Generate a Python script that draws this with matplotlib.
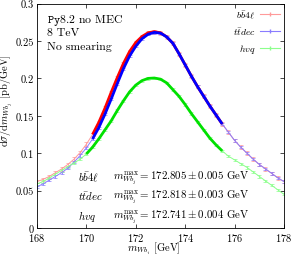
import numpy as np
import matplotlib.pyplot as plt
from matplotlib.lines import Line2D

plt.rcParams.update({
    "font.family": "cmr10",
    "mathtext.fontset": "cm",
    "axes.formatter.use_mathtext": True,
    "font.size": 7.5,
})

# bin centres [GeV]
mass = [168.0, 168.25, 168.5, 168.75, 169.0, 169.25, 169.5, 169.75,
        170.0, 170.25, 170.5, 170.75, 171.0, 171.25, 171.5, 171.75,
        172.0, 172.25, 172.5, 172.75, 173.0, 173.25, 173.5, 173.75,
        174.0, 174.25, 174.5, 174.75, 175.0, 175.25, 175.5, 175.75,
        176.0, 176.25, 176.5, 176.75, 177.0, 177.25, 177.5, 177.75, 178.0]

# dsigma/dm [pb/GeV]
bb4l = [0.062, 0.065, 0.069, 0.074, 0.079, 0.085, 0.092, 0.101,
        0.112, 0.125, 0.141, 0.160, 0.181, 0.201, 0.220, 0.236,
        0.248, 0.256, 0.261, 0.2625, 0.261, 0.2555, 0.247, 0.233,
        0.218, 0.203, 0.189, 0.176, 0.163, 0.151, 0.139, 0.128,
        0.117, 0.108, 0.100, 0.092, 0.085, 0.079, 0.073, 0.067, 0.062]
ttdec = [0.055, 0.059, 0.064, 0.069, 0.074, 0.080, 0.088, 0.097,
         0.107, 0.119, 0.134, 0.152, 0.172, 0.193, 0.213, 0.230,
         0.243, 0.253, 0.259, 0.2615, 0.2605, 0.2555, 0.247, 0.233,
         0.218, 0.203, 0.189, 0.176, 0.163, 0.151, 0.139, 0.128,
         0.117, 0.108, 0.100, 0.092, 0.085, 0.079, 0.073, 0.067, 0.062]
hvq = [0.059, 0.062, 0.067, 0.072, 0.077, 0.082, 0.087, 0.092,
       0.099, 0.108, 0.119, 0.131, 0.143, 0.157, 0.170, 0.182,
       0.191, 0.197, 0.200, 0.2005, 0.199, 0.194, 0.185, 0.176,
       0.165, 0.153, 0.142, 0.131, 0.120, 0.111, 0.103, 0.096,
       0.091, 0.086, 0.081, 0.075, 0.069, 0.063, 0.057, 0.051, 0.045]

err_bb4l = 0.0025
err_ttdec = 0.0015
err_hvq = 0.0015

# fit windows
fit_bb4l = (170.25, 175.5)
fit_ttdec = (170.25, 175.5)
fit_hvq = (170.0, 175.5)

labels = [r"$b\bar{b}4\ell$", r"$t\bar{t}dec$", r"$hvq$"]
results = ["172.805 \\pm 0.005", "172.818 \\pm 0.003", "172.741 \\pm 0.004"]

thin_colors = ["#ff9a9a", "#8a7cff", "#8cff8c"]
thick_colors = ["#ff0000", "#0000ff", "#00e000"]

fig = plt.figure(figsize=(2.91, 2.55), dpi=100)
ax = fig.add_axes([0.127, 0.102, 0.849, 0.880])

series = [(bb4l, err_bb4l, fit_bb4l), (ttdec, err_ttdec, fit_ttdec),
          (hvq, err_hvq, fit_hvq)]
x = np.array(mass)
for (vals, err, fit), c in zip(series, thin_colors):
    ax.errorbar(x, vals, yerr=err, color=c, lw=0.7, elinewidth=0.6,
                capsize=1.2, capthick=0.5, zorder=2)
for (vals, err, fit), c in zip(series, thick_colors):
    y = np.array(vals)
    sel = (x >= fit[0]) & (x <= fit[1])
    ax.plot(x[sel], y[sel], color=c, lw=2.0, zorder=3, solid_capstyle="butt")

ax.set_xlim(168, 178)
ax.set_ylim(0, 0.3)
ax.set_xticks([168, 170, 172, 174, 176, 178])
ax.set_yticks([0, 0.05, 0.1, 0.15, 0.2, 0.25, 0.3])
ax.set_yticklabels(["0", "0.05", "0.1", "0.15", "0.2", "0.25", "0.3"])
ax.tick_params(direction="in", top=True, right=True, length=3, width=0.5,
               labelsize=7.5, pad=2.0)
for s in ax.spines.values():
    s.set_linewidth(0.6)

ax.set_xlabel(r"$m_{Wb_j}$ [GeV]", fontsize=7.6)
ax.xaxis.set_label_coords(0.474, -0.055)
ax.set_ylabel(r"d$\sigma$/d$m_{Wb_j}$ [pb/GeV]", fontsize=7.5)
ax.yaxis.set_label_coords(-0.088, 0.571)

ax.text(0.04, 0.962, r"$\mathtt{Py8.2}$ no MEC", transform=ax.transAxes,
        va="top", fontsize=8.5)
ax.text(0.04, 0.892, "8 TeV", transform=ax.transAxes, va="top", fontsize=8.5)
ax.text(0.04, 0.832, "No smearing", transform=ax.transAxes, va="top",
        fontsize=8.5)

ys = [0.228, 0.143, 0.054]
for lab, res, yy in zip(labels, results, ys):
    ax.text(0.166, yy, lab, transform=ax.transAxes, va="center", fontsize=7.8)
    ax.text(0.308, yy, r"$m^{\max}_{Wb_j} = " + res + r"$ GeV",
            transform=ax.transAxes, va="center", fontsize=7.8)

handles = [Line2D([0], [0], color=c, lw=0.8, marker="|", markersize=3,
                  markevery=[1]) for c in thin_colors]
ax.legend(handles, labels, loc="upper right", frameon=False, markerfirst=False,
          fontsize=7, handlelength=2.0, handletextpad=0.5,
          labelspacing=0.55, borderaxespad=0.15, borderpad=0.3)

plt.savefig("out.png", dpi=100)
